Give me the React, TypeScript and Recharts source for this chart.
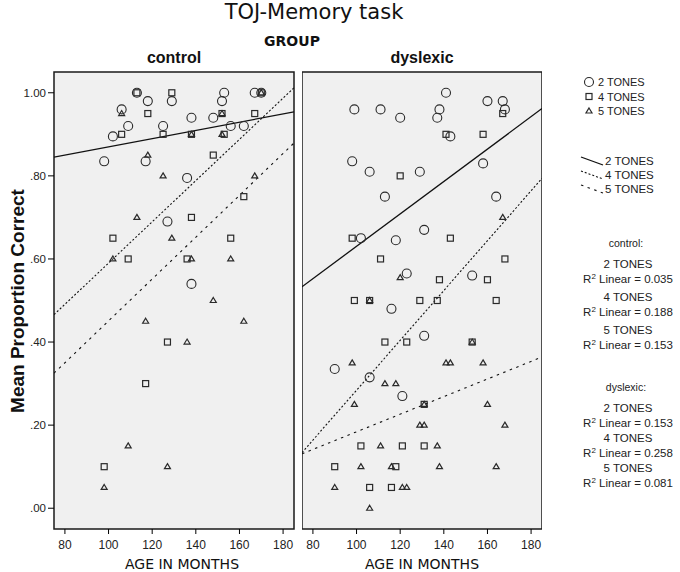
import {
  ScatterChart,
  Scatter,
  XAxis,
  YAxis,
  ReferenceArea,
  ReferenceLine,
} from 'recharts';

// ages in months, mean proportion correct
const controlTwo = [
  [98, 0.835], [102, 0.895], [106, 0.96], [109, 0.92], [113, 1.0], [118, 0.98],
  [117, 0.835], [125, 0.92], [129, 0.98], [138, 0.94], [136, 0.795], [127, 0.69],
  [138, 0.54], [148, 0.94], [152, 0.98], [153, 1.0], [156, 0.92], [162, 0.92],
  [167, 1.0], [170, 1.0],
];
const controlFour = [
  [106, 0.9], [118, 0.95], [129, 1.0], [125, 0.9], [138, 0.9], [148, 0.85],
  [152, 0.95], [153, 0.9], [167, 0.95], [162, 0.75], [138, 0.7], [102, 0.65],
  [109, 0.6], [136, 0.6], [156, 0.65], [127, 0.4], [117, 0.3], [98, 0.1],
  [113, 1.0], [170, 1.0],
];
const controlFive = [
  [106, 0.95], [118, 0.85], [125, 0.8], [113, 0.7], [129, 0.65], [102, 0.6],
  [138, 0.6], [156, 0.6], [138, 0.9], [152, 0.95], [152, 0.9], [167, 0.8],
  [117, 0.45], [148, 0.5], [162, 0.45], [136, 0.4], [109, 0.15], [127, 0.1],
  [98, 0.05], [170, 1.0],
];
const dyslexicTwo = [
  [99, 0.96], [111, 0.96], [120, 0.94], [141, 1.0], [138, 0.96], [137, 0.94],
  [160, 0.98], [167, 0.98], [168, 0.96], [143, 0.895], [98, 0.835], [106, 0.81],
  [129, 0.81], [158, 0.83], [113, 0.75], [164, 0.75], [102, 0.65], [131, 0.67],
  [118, 0.645], [123, 0.565], [153, 0.56], [116, 0.48], [131, 0.415], [90, 0.335],
  [106, 0.315], [121, 0.27],
];
const dyslexicFour = [
  [167, 0.95], [141, 0.9], [158, 0.9], [120, 0.8], [98, 0.65], [143, 0.65],
  [111, 0.6], [168, 0.6], [138, 0.55], [160, 0.55], [99, 0.5], [106, 0.5],
  [129, 0.5], [137, 0.5], [164, 0.5], [113, 0.4], [123, 0.4], [153, 0.4],
  [131, 0.25], [102, 0.15], [121, 0.15], [131, 0.15], [90, 0.1], [118, 0.1],
  [106, 0.05], [116, 0.05],
];
const dyslexicFive = [
  [167, 0.7], [120, 0.555], [106, 0.5], [98, 0.35], [141, 0.35], [143, 0.35],
  [158, 0.35], [113, 0.3], [118, 0.3], [99, 0.25], [131, 0.25], [160, 0.25],
  [129, 0.2], [131, 0.2], [168, 0.2], [111, 0.15], [137, 0.15], [102, 0.1],
  [116, 0.1], [138, 0.1], [164, 0.1], [90, 0.05], [121, 0.05], [123, 0.05],
  [106, 0.0], [153, 0.4],
];

// fitted values at the two ends of the age range, per tone (2, 4, 5)
const fitAges = [75, 185];
const controlFits = [[0.845, 0.954], [0.466, 1.012], [0.325, 0.879]];
const dyslexicFits = [[0.533, 0.962], [0.134, 0.794], [0.131, 0.364]];

const toneNames = ['2 TONES', '4 TONES', '5 TONES'];
const controlR2 = ['0.035', '0.188', '0.153'];
const dyslexicR2 = ['0.153', '0.258', '0.081'];

const ageTicks = [80, 100, 120, 140, 160, 180];
const scoreTicks = [0, 0.2, 0.4, 0.6, 0.8, 1.0];

const ink = '#2a2a2a';
const sans = '"Liberation Sans", Arial, sans-serif';
const dejavu = '"DejaVu Sans", sans-serif';
const dashes = [undefined, '2 2', '2.5 4.5'];

const toPoints = (rows: number[][]) => rows.map(([age, score]) => ({ age, score }));

const fmtScore = (v: number) => (v >= 1 ? v.toFixed(2) : v.toFixed(2).replace(/^0/, ''));

function CircleMark({ cx, cy }: any) {
  return <circle cx={cx} cy={cy} r={4.5} fill="none" stroke={ink} strokeWidth={1.1} />;
}
function SquareMark({ cx, cy }: any) {
  return <rect x={cx - 3} y={cy - 3} width={6} height={6} fill="none" stroke={ink} strokeWidth={1.2} />;
}
function TriangleMark({ cx, cy }: any) {
  return (
    <path
      d={`M${cx},${cy - 3}L${cx + 3},${cy + 2}L${cx - 3},${cy + 2}Z`}
      fill="none"
      stroke={ink}
      strokeWidth={1.2}
    />
  );
}
const marks = [CircleMark, SquareMark, TriangleMark];

interface PanelProps {
  left: number;
  series: number[][][];
  fits: number[][];
  withScale: boolean;
  titleShift: number;
}

function Panel({ left, series, fits, withScale, titleShift }: PanelProps) {
  return (
    <div style={{ position: 'absolute', left, top: 0 }}>
      <ScatterChart
        width={withScale ? 300 : 240}
        height={572}
        margin={{ top: 72, right: withScale ? 6 : 0, bottom: 0, left: 0 }}
      >
        <XAxis
          type="number"
          dataKey="age"
          domain={[75, 185]}
          ticks={ageTicks}
          allowDataOverflow
          height={43}
          axisLine={false}
          tickLine={{ stroke: '#000' }}
          tickSize={5}
          tickMargin={6}
          tick={{ fontSize: 12, fill: '#222', fontFamily: sans }}
          label={({ viewBox }: any) => (
            <text
              x={viewBox.x + viewBox.width / 2 + titleShift}
              y={viewBox.y + viewBox.height - 3}
              textAnchor="middle"
              fontSize={14}
              fill="#111"
              fontFamily={dejavu}
            >
              AGE IN MONTHS
            </text>
          )}
        />
        <YAxis
          type="number"
          dataKey="score"
          domain={[-0.05, 1.05]}
          ticks={scoreTicks}
          allowDataOverflow
          hide={!withScale}
          width={54}
          axisLine={false}
          tickLine={{ stroke: '#000' }}
          tickSize={6}
          tickMargin={2}
          tickFormatter={fmtScore}
          tick={{ fontSize: 11.5, fill: '#222', fontFamily: sans }}
        />
        <ReferenceArea
          x1={75}
          x2={185}
          y1={-0.05}
          y2={1.05}
          fill="#f0f0f0"
          fillOpacity={1}
          stroke="#1a1a1a"
          strokeWidth={1.5}
        />
        {series.map((rows, i) => (
          <Scatter
            key={toneNames[i]}
            name={toneNames[i]}
            data={toPoints(rows)}
            shape={marks[i]}
            isAnimationActive={false}
          />
        ))}
        {fits.map((ends, i) => (
          <ReferenceLine
            key={'fit' + i}
            segment={[
              { x: fitAges[0], y: ends[0] },
              { x: fitAges[1], y: ends[1] },
            ]}
            stroke="#111"
            strokeWidth={i === 0 ? 1.3 : 1.1}
            strokeDasharray={dashes[i]}
            ifOverflow="hidden"
          />
        ))}
      </ScatterChart>
    </div>
  );
}

function StatsBlock({ title, values, top, step }: { title: string; values: string[]; top: number; step: number }) {
  return (
    <g fontFamily={sans} fontSize={11.5} fill="#222" textAnchor="middle">
      <text x={626} y={top} fontSize={10.5}>{title}</text>
      {values.map((v, i) => (
        <g key={v + i}>
          <text x={628} y={top + 21 + i * step}>{toneNames[i]}</text>
          <text x={628} y={top + 36 + i * step}>
            R<tspan dy={-4} fontSize={8}>2</tspan>
            <tspan dy={4}> Linear = {v}</tspan>
          </text>
        </g>
      ))}
    </g>
  );
}

export default function App() {
  return (
    <div style={{ position: 'absolute', left: 0, top: 0, width: 680, height: 572, background: '#fff' }}>
      <Panel left={0} series={[controlTwo, controlFour, controlFive]} fits={controlFits} withScale titleShift={8} />
      <Panel left={302} series={[dyslexicTwo, dyslexicFour, dyslexicFive]} fits={dyslexicFits} withScale={false} titleShift={0} />
      <svg width={680} height={572} style={{ position: 'absolute', left: 0, top: 0, pointerEvents: 'none' }}>
        <text x={314} y={19} textAnchor="middle" fontFamily={dejavu} fontSize={21} fill="#111">
          TOJ-Memory task
        </text>
        <text x={292} y={46} textAnchor="middle" fontFamily={dejavu} fontWeight="bold" fontSize={14} fill="#111">
          GROUP
        </text>
        <text x={174} y={63} textAnchor="middle" fontFamily={sans} fontWeight="bold" fontSize={16} fill="#111">
          control
        </text>
        <text x={422} y={63} textAnchor="middle" fontFamily={sans} fontWeight="bold" fontSize={16} fill="#111">
          dyslexic
        </text>
        <text
          transform="rotate(-90)"
          x={-301}
          y={24}
          textAnchor="middle"
          fontFamily={sans}
          fontWeight="bold"
          fontSize={19}
          fill="#111"
        >
          Mean Proportion Correct
        </text>

        {/* symbol legend */}
        {toneNames.map((name, i) => {
          const Mark = marks[i];
          const y = 82 + i * 14.5;
          return (
            <g key={'m' + name}>
              <Mark cx={589} cy={y} />
              <text x={598} y={y + 4} fontFamily={sans} fontSize={11} fill="#222">{name}</text>
            </g>
          );
        })}

        {/* fit line legend */}
        {toneNames.map((name, i) => {
          const y = 161 + i * 14;
          return (
            <g key={'l' + name}>
              <line
                x1={581}
                y1={y - 4}
                x2={603}
                y2={y + 4}
                stroke="#111"
                strokeWidth={i === 0 ? 1.3 : 1.1}
                strokeDasharray={dashes[i]}
              />
              <text x={605} y={y + 4} fontFamily={sans} fontSize={11.5} fill="#222">{name}</text>
            </g>
          );
        })}

        <StatsBlock title="control:" values={controlR2} top={247} step={33} />
        <StatsBlock title="dyslexic:" values={dyslexicR2} top={391} step={30} />
      </svg>
    </div>
  );
}
